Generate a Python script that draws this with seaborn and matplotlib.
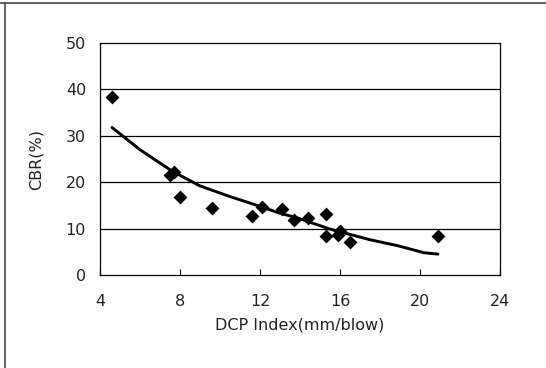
import matplotlib
matplotlib.use("Agg")
import matplotlib.pyplot as plt
from matplotlib.lines import Line2D
import seaborn as sns
import pandas as pd

# Measured data points (DCP index vs CBR)
dcp_index = [4.6, 7.5, 7.7, 8.0, 9.6, 11.6, 12.1, 13.1, 13.7, 14.4, 15.3, 15.3, 15.9, 16.0, 16.5, 20.9]
cbr_values = [38.4, 21.6, 22.2, 16.9, 14.5, 12.8, 14.6, 14.3, 11.9, 12.3, 13.1, 8.5, 8.6, 9.4, 7.1, 8.5]

# Trend line
trend_x = [4.6, 6.0, 7.6, 9.0, 10.5, 12.0, 13.0, 13.8, 15.5, 17.5, 18.9, 20.2, 20.9]
trend_y = [31.8, 27.0, 22.4, 19.2, 16.9, 14.8, 13.3, 12.4, 9.9, 7.6, 6.3, 4.8, 4.5]

x_ticks = [4, 8, 12, 16, 20, 24]
y_ticks = [0, 10, 20, 30, 40, 50]

sns.set_theme(style="white")
plt.rcParams['font.family'] = ['DejaVu Sans']

fig = plt.figure(figsize=(5.46, 3.68), dpi=100)
ax = fig.add_axes([100 / 546, 1 - 275 / 368, 400 / 546, 232 / 368])

pts = pd.DataFrame({"x": dcp_index, "y": cbr_values})
line = pd.DataFrame({"x": trend_x, "y": trend_y})

for yv in y_ticks[1:-1]:
    ax.axhline(yv, color="black", lw=0.9, zorder=1)

sns.lineplot(data=line, x="x", y="y", sort=False, color="black", lw=2.1, ax=ax, zorder=3)
sns.scatterplot(data=pts, x="x", y="y", marker="D", color="black", s=50,
                edgecolor="black", linewidth=0, ax=ax, zorder=4)

ax.set_xlim(4, 24)
ax.set_ylim(0, 50)
ax.set_xticks(x_ticks)
ax.set_yticks(y_ticks)
ax.set_xticklabels([str(v) for v in x_ticks])
ax.set_yticklabels([str(v) for v in y_ticks])
ax.tick_params(axis="x", direction="in", length=4, width=0.8, color="black", pad=14,
               labelsize=11.5, labelcolor="#222222", top=False, bottom=True)
ax.tick_params(axis="y", length=0, pad=10, labelsize=11.5, labelcolor="#222222")
ax.set_xlabel("DCP Index(mm/blow)", fontsize=11.5, color="#222222", labelpad=6)
ax.set_ylabel("CBR(%)", fontsize=11.5, color="#222222", labelpad=16)

for sp in ax.spines.values():
    sp.set_color("black")
    sp.set_linewidth(0.9)
    sp.set_visible(True)

# outer frame (top and left)
fig.add_artist(Line2D([0, 1], [1 - 3 / 368, 1 - 3 / 368], transform=fig.transFigure,
                      color="#444444", lw=1.2))
fig.add_artist(Line2D([5 / 546, 5 / 546], [0, 1 - 3 / 368], transform=fig.transFigure,
                      color="#444444", lw=1.2))

fig.savefig("out.png", dpi=100, facecolor="white")
